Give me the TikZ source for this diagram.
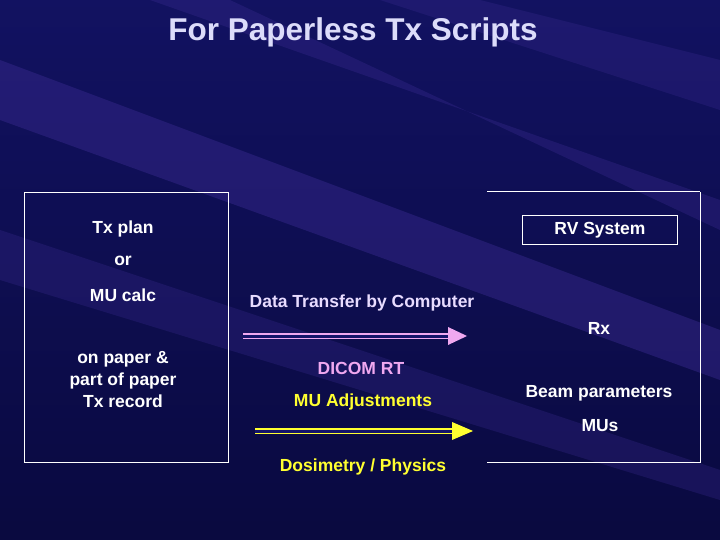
\documentclass[tikz,border=0pt]{standalone}
\usepackage{fontspec}
\setmainfont{Liberation Sans}
\definecolor{bgA}{HTML}{14146A}
\definecolor{bgB}{HTML}{0A0A40}
\definecolor{streak}{HTML}{3A2A90}
\definecolor{ttl}{HTML}{DCDCFA}
\definecolor{pinkc}{HTML}{F0A8F0}
\definecolor{yel}{HTML}{FFFF30}
\definecolor{lav}{HTML}{E8DCFF}
\begin{document}
\begin{tikzpicture}[x=1pt,y=-1pt,
  txt/.style={text=white,font=\fontsize{17.5}{20}\selectfont\bfseries,inner sep=0pt},
  box/.style={draw=white,line width=1pt},
  dbl/.style={double distance=3pt,line width=1.2pt}]
\useasboundingbox (0,0) rectangle (720,540);
\fill[bgB] (0,0) rectangle (720,540);
\shade[top color=bgA,bottom color=bgB,opacity=0.8] (0,0) rectangle (720,540);
\begin{scope}
\clip (0,0) rectangle (720,540);
\fill[streak,opacity=0.45] (0,60) -- (720,330) -- (720,380) -- (0,120) -- cycle;
\fill[streak,opacity=0.35] (150,0) -- (720,200) -- (720,230) -- (230,0) -- cycle;
\fill[streak,opacity=0.3] (0,230) -- (720,470) -- (720,500) -- (0,280) -- cycle;
\fill[streak,opacity=0.3] (380,0) -- (720,110) -- (720,60) -- (480,0) -- cycle;
\end{scope}
\node[text=ttl,font=\fontsize{31.5}{34}\selectfont\bfseries] (title) at (353,32) {For Paperless Tx Scripts};
\node[box,minimum width=204,minimum height=270,anchor=north west] (lbox) at (24,192) {};
\draw[box] (700,192) -- (487,192) (487,462) -- (700,462) -- (700,192);
\node[box,minimum width=155,minimum height=29,anchor=north west] (rv) at (522,215) {};
\node[txt] (rvt) at (rv.center) {RV System};
\node[txt] (t1) at (123,229) {Tx plan};
\node[txt] (t2) at (123,261) {or};
\node[txt] (t3) at (123,295) {MU calc};
\node[txt,align=center,font=\fontsize{17.5}{22}\selectfont\bfseries] (t4) at (123,380) {on paper \&\\part of paper\\Tx record};
\node[txt,text=lav] (dt) at (362,303) {Data Transfer by Computer};
\node[txt] (rx) at (599,328) {Rx};
\node[txt] (bp) at (599,393) {Beam parameters};
\node[txt] (mu) at (600,426) {MUs};
\node[txt,text=pinkc] (dicom) at (361,368) {DICOM RT};
\node[txt,text=yel] (mua) at (363,402) {MU Adjustments};
\node[txt,text=yel] (dos) at (363,467) {Dosimetry / Physics};
\coordinate (p1) at (243,336); \coordinate (p2) at (448,336);
\coordinate (y1) at (255,431); \coordinate (y2) at (452,431);
\draw[dbl,pinkc,double=bgA] (p1) -- (p2);
\fill[pinkc] (448,327) -- (467,336) -- (448,345) -- cycle;
\draw[dbl,yel,double=bgA] (y1) -- (y2);
\fill[yel] (452,422) -- (473,431) -- (452,440) -- cycle;
\end{tikzpicture}
\end{document}
